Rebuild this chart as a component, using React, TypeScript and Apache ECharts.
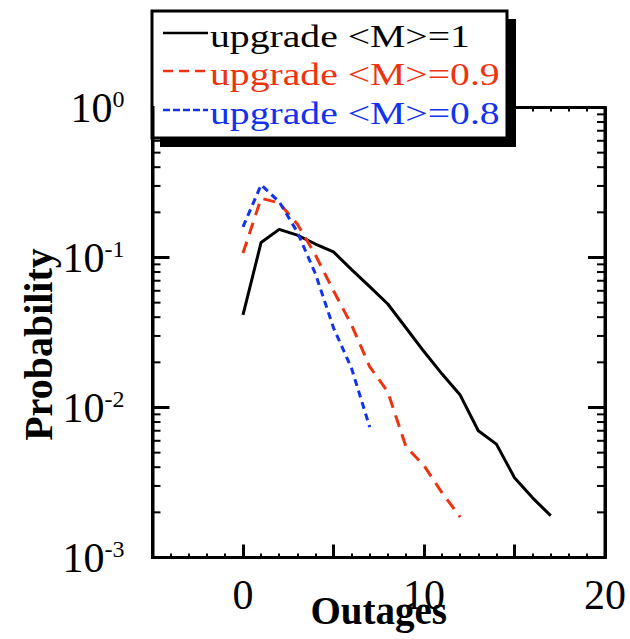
import React, { useEffect, useRef } from "react";
import * as echarts from "echarts";

const outages = [0, 1, 2, 3, 4, 5, 6, 7, 8, 9, 10, 11, 12, 13, 14, 15, 16, 17];
const probM1 = [0.0414, 0.126, 0.154, 0.141, 0.123, 0.109, 0.083, 0.064, 0.049, 0.034, 0.0236, 0.0167, 0.0121, 0.0070, 0.0057, 0.0034, 0.0025, 0.0019];
const probM09 = [0.107, 0.248, 0.231, 0.167, 0.104, 0.060, 0.0355, 0.0187, 0.0127, 0.0055, 0.0041, 0.0027, 0.00186];
const probM08 = [0.160, 0.305, 0.235, 0.148, 0.078, 0.034, 0.0182, 0.0074];
const seriesNames = ["upgrade <M>=1", "upgrade <M>=0.9", "upgrade <M>=0.8"];
const yMinorTicks = [2, 3, 4, 5, 6, 7, 8, 9].flatMap((k) => [k * 0.001, k * 0.01, k * 0.1]);

const RED = "#ee3311";
const BLUE = "#1133ee";
const SERIF = "'Liberation Serif', 'Times New Roman', serif";

export default function App() {
  const ref = useRef<HTMLDivElement>(null);
  useEffect(() => {
    const chart = echarts.init(ref.current!, null, { renderer: "svg" });
    const pair = (vals: number[]) => vals.map((v, i) => [outages[i], v]);
    const xBase = {
      type: "value",
      min: -5,
      max: 20,
      interval: 5,
      axisLine: { show: true, onZero: false, lineStyle: { color: "#000", width: 3 } },
      axisTick: { show: true, inside: true, length: 13, lineStyle: { color: "#000", width: 3 } },
      minorTick: { show: true, splitNumber: 5, length: 4, lineStyle: { color: "#000", width: 2 } },
      splitLine: { show: false },
      minorSplitLine: { show: false },
    };
    const yBase = {
      type: "log",
      logBase: 10,
      min: 0.001,
      max: 1,
      axisLine: { show: true, onZero: false, lineStyle: { color: "#000", width: 3 } },
      axisTick: { show: true, inside: true, length: 17, lineStyle: { color: "#000", width: 3 } },
      splitLine: { show: false },
    };
    const legendRows = [
      { y: 33, text: seriesNames[0], color: "#000", dash: null as number[] | null },
      { y: 71, text: seriesNames[1], color: RED, dash: [10, 6] },
      { y: 110, text: seriesNames[2], color: BLUE, dash: [7, 3] },
    ];
    const graphic: any[] = [
      { type: "rect", z: 100, shape: { x: 160, y: 19, width: 356, height: 128 }, style: { fill: "#000" } },
      { type: "rect", z: 101, shape: { x: 152, y: 11, width: 355, height: 127 }, style: { fill: "#fff", stroke: "#000", lineWidth: 3 } },
    ];
    legendRows.forEach((r) => {
      graphic.push({
        type: "line",
        z: 102,
        shape: { x1: 163, y1: r.y, x2: 208, y2: r.y },
        style: { stroke: r.color, lineWidth: 2.5, lineDash: r.dash || undefined },
      });
      graphic.push({
        type: "text",
        z: 102,
        x: 210,
        y: r.y + 4,
        scaleX: 1.28,
        style: { text: r.text, fill: r.color, font: `31px ${SERIF}`, verticalAlign: "middle", align: "left" },
      });
    });

    chart.setOption({
      animation: false,
      grid: {
        show: true,
        borderColor: "#000",
        borderWidth: 3,
        backgroundColor: "transparent",
        left: 152.5,
        right: 25,
        top: 107.5,
        bottom: 81.5,
        containLabel: false,
        outerBoundsMode: "none",
      },
      xAxis: [
        {
          ...xBase,
          position: "bottom",
          name: "Outages",
          nameLocation: "middle",
          nameGap: 33,
          nameMoveOverlap: false,
          nameTextStyle: { fontFamily: SERIF, fontWeight: "bold", fontSize: 39, color: "#000" },
          axisLabel: {
            margin: 16,
            fontFamily: SERIF,
            fontSize: 42,
            color: "#000",
            formatter: (v: number) => (v % 10 === 0 ? String(v) : ""),
          },
        },
        { ...xBase, position: "top", axisLabel: { show: false } },
      ],
      yAxis: [
        {
          ...yBase,
          position: "left",
          name: "Probability",
          nameLocation: "middle",
          nameRotate: 90,
          nameGap: 94,
          nameMoveOverlap: false,
          nameTextStyle: { fontFamily: SERIF, fontWeight: "bold", fontSize: 40, color: "#000", padding: [0, 24, 0, 0] },
          axisLabel: {
            margin: 28,
            color: "#000",
            formatter: (v: number) => `{b|10}{s|${Math.round(Math.log10(v))}}`,
            rich: {
              b: { fontFamily: SERIF, fontSize: 42, color: "#000" },
              s: { fontFamily: SERIF, fontSize: 24, color: "#000", verticalAlign: "top" },
            },
          },
        },
        { ...yBase, position: "right", axisLabel: { show: false } },
      ],
      series: [
        {
          name: seriesNames[0],
          type: "line",
          data: pair(probM1),
          symbol: "none",
          lineStyle: { color: "#000", width: 3 },
        },
        {
          name: seriesNames[1],
          type: "line",
          data: pair(probM09),
          symbol: "none",
          lineStyle: { color: RED, width: 3, type: [12, 8] },
        },
        {
          name: seriesNames[2],
          type: "line",
          data: pair(probM08),
          symbol: "none",
          lineStyle: { color: BLUE, width: 3, type: [7, 5] },
        },
        {
          type: "custom",
          silent: true,
          z: 1,
          data: yMinorTicks.map((v) => [-5, v]),
          encode: { x: 0, y: 1 },
          clip: false,
          renderItem: (params: any, api: any) => {
            const v = api.value(1);
            const pL = api.coord([-5, v]);
            const pR = api.coord([20, v]);
            return {
              type: "group",
              children: [
                { type: "line", shape: { x1: pL[0], y1: pL[1], x2: pL[0] + 8, y2: pL[1] }, style: { stroke: "#000", lineWidth: 2 } },
                { type: "line", shape: { x1: pR[0], y1: pR[1], x2: pR[0] - 8, y2: pR[1] }, style: { stroke: "#000", lineWidth: 2 } },
              ],
            };
          },
        },
      ],
      graphic: [
        ...graphic,
        { type: "rect", z: 200, shape: { x: 151, y: 106, width: 3.5, height: 453 }, style: { fill: "#000" } },
      ],
    });
    return () => chart.dispose();
  }, []);
  return <div ref={ref} style={{ position: "fixed", left: 0, top: 0, width: 630, height: 639, background: "#fff" }} />;
}
